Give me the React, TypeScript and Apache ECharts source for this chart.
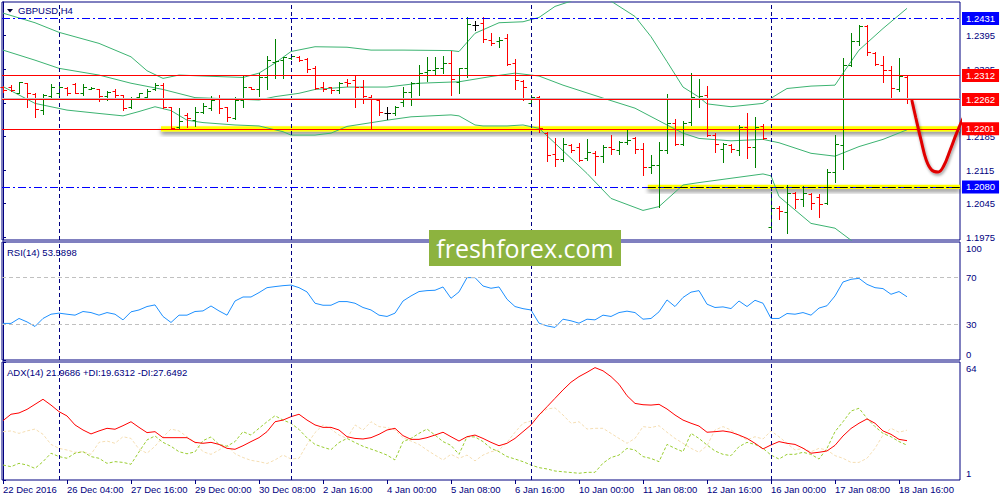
import React, { useEffect, useRef } from "react";
import * as echarts from "echarts";

const FONT = '"Liberation Sans", Arial, sans-serif';
const NAVY = "#000080";

// ---------- OHLC (H4 bars, index 0 = first visible bar) ----------
const opens = [
  1.2288, 1.2288, 1.2276, 1.2296, 1.2273, 1.2241, 1.2269, 1.2275, 1.2287, 1.2294,
  1.2276, 1.2284, 1.2283, 1.2269, 1.2280, 1.2271, 1.2246, 1.2267, 1.2268, 1.2283,
  1.2292, 1.2246, 1.2205, 1.2230, 1.2219, 1.2237, 1.2245, 1.2264, 1.2246, 1.2224,
  1.2261, 1.2288, 1.2285, 1.2310, 1.2341, 1.2345, 1.2348, 1.2351, 1.2346, 1.2327,
  1.2288, 1.2288, 1.2282, 1.2299, 1.2303, 1.2288, 1.2268, 1.2261, 1.2235, 1.2233,
  1.2257, 1.2278, 1.2296, 1.2320, 1.2324, 1.2327, 1.2339, 1.2299, 1.2327, 1.2417,
  1.2421, 1.2386, 1.2383, 1.2390, 1.2339, 1.2301, 1.2254, 1.2268, 1.2192, 1.2149,
  1.2138, 1.2167, 1.2164, 1.2140, 1.2151, 1.2145, 1.2164, 1.2157, 1.2174, 1.2181,
  1.2160, 1.2122, 1.2126, 1.2157, 1.2213, 1.2169, 1.2216, 1.2264, 1.2271, 1.2188,
  1.2160, 1.2167, 1.2157, 1.2205, 1.2164, 1.2207, 1.1997, 1.2037, 1.2028, 1.2067,
  1.2054, 1.2065, 1.2058, 1.2046, 1.2112, 1.2167, 1.2334, 1.2383, 1.2415, 1.2358,
  1.2334, 1.2324, 1.2283, 1.2308,
];
const highs = [
  1.2290, 1.2293, 1.2299, 1.2297, 1.2275, 1.2273, 1.2294, 1.2294, 1.2288, 1.2296,
  1.2294, 1.2288, 1.2285, 1.2280, 1.2283, 1.2272, 1.2267, 1.2276, 1.2283, 1.2296,
  1.2296, 1.2247, 1.2244, 1.2233, 1.2246, 1.2254, 1.2269, 1.2272, 1.2247, 1.2268,
  1.2311, 1.2289, 1.2317, 1.2353, 1.2388, 1.2351, 1.2355, 1.2353, 1.2348, 1.2332,
  1.2299, 1.2289, 1.2299, 1.2304, 1.2311, 1.2303, 1.2272, 1.2262, 1.2246, 1.2249,
  1.2288, 1.2299, 1.2334, 1.2351, 1.2350, 1.2353, 1.2364, 1.2327, 1.2433, 1.2426,
  1.2433, 1.2400, 1.2392, 1.2398, 1.2346, 1.2303, 1.2271, 1.2269, 1.2195, 1.2181,
  1.2181, 1.2169, 1.2172, 1.2179, 1.2155, 1.2167, 1.2188, 1.2176, 1.2198, 1.2183,
  1.2172, 1.2147, 1.2174, 1.2274, 1.2221, 1.2218, 1.2318, 1.2305, 1.2290, 1.2192,
  1.2172, 1.2169, 1.2209, 1.2233, 1.2225, 1.2211, 1.2070, 1.2040, 1.2084, 1.2070,
  1.2082, 1.2068, 1.2065, 1.2117, 1.2188, 1.2348, 1.2400, 1.2417, 1.2417, 1.2360,
  1.2353, 1.2332, 1.2348, 1.2311,
];
const lows = [
  1.2277, 1.2279, 1.2275, 1.2246, 1.2226, 1.2231, 1.2266, 1.2271, 1.2271, 1.2275,
  1.2272, 1.2283, 1.2259, 1.2261, 1.2266, 1.2241, 1.2244, 1.2264, 1.2265, 1.2282,
  1.2244, 1.2200, 1.2202, 1.2205, 1.2206, 1.2233, 1.2241, 1.2233, 1.2217, 1.2222,
  1.2246, 1.2285, 1.2269, 1.2283, 1.2306, 1.2306, 1.2346, 1.2342, 1.2320, 1.2285,
  1.2279, 1.2276, 1.2276, 1.2290, 1.2247, 1.2254, 1.2200, 1.2230, 1.2221, 1.2230,
  1.2249, 1.2251, 1.2272, 1.2301, 1.2315, 1.2318, 1.2271, 1.2276, 1.2308, 1.2406,
  1.2381, 1.2376, 1.2372, 1.2334, 1.2283, 1.2261, 1.2249, 1.2195, 1.2133, 1.2124,
  1.2133, 1.2153, 1.2133, 1.2136, 1.2105, 1.2131, 1.2149, 1.2149, 1.2169, 1.2151,
  1.2105, 1.2108, 1.2038, 1.2151, 1.2167, 1.2167, 1.2209, 1.2247, 1.2186, 1.2153,
  1.2132, 1.2153, 1.2147, 1.2140, 1.2121, 1.2179, 1.1994, 1.2014, 1.1984, 1.2036,
  1.2040, 1.2034, 1.2017, 1.2045, 1.2091, 1.2117, 1.2331, 1.2376, 1.2355, 1.2334,
  1.2299, 1.2265, 1.2279, 1.2254,
];
const closes = [
  1.2282, 1.2282, 1.2298, 1.2276, 1.2242, 1.2272, 1.2288, 1.2288, 1.2275, 1.2276,
  1.2289, 1.2286, 1.2269, 1.2278, 1.2271, 1.2244, 1.2265, 1.2275, 1.2280, 1.2292,
  1.2247, 1.2203, 1.2217, 1.2224, 1.2237, 1.2249, 1.2261, 1.2244, 1.2226, 1.2261,
  1.2289, 1.2285, 1.2310, 1.2345, 1.2343, 1.2350, 1.2353, 1.2345, 1.2325, 1.2287,
  1.2283, 1.2282, 1.2297, 1.2296, 1.2288, 1.2269, 1.2263, 1.2237, 1.2235, 1.2246,
  1.2278, 1.2297, 1.2317, 1.2324, 1.2327, 1.2339, 1.2304, 1.2327, 1.2419, 1.2417,
  1.2388, 1.2379, 1.2387, 1.2337, 1.2303, 1.2288, 1.2268, 1.2202, 1.2147, 1.2138,
  1.2169, 1.2157, 1.2136, 1.2153, 1.2145, 1.2164, 1.2158, 1.2174, 1.2178, 1.2160,
  1.2122, 1.2126, 1.2157, 1.2213, 1.2169, 1.2214, 1.2268, 1.2269, 1.2188, 1.2170,
  1.2170, 1.2158, 1.2205, 1.2163, 1.2205, 1.2181, 1.2037, 1.2030, 1.2068, 1.2054,
  1.2067, 1.2046, 1.2045, 1.2112, 1.2169, 1.2334, 1.2383, 1.2415, 1.2360, 1.2336,
  1.2324, 1.2286, 1.2311, 1.2263,
];

// ---------- Bollinger bands (read at vertices: [bar index, price]) ----------
const bbUpper = [
  [0, 1.2442], [4, 1.2422], [7, 1.2402], [12, 1.2379], [16, 1.2351], [18, 1.2322],
  [20, 1.2306], [22, 1.2313], [25, 1.2311], [30, 1.2308], [32, 1.2317], [34, 1.2338],
  [36, 1.2362], [39, 1.2372], [43, 1.2371], [46, 1.2365], [50, 1.2365], [56, 1.2364],
  [57, 1.2362], [59, 1.2400], [62, 1.2422], [65, 1.2424], [67, 1.2433], [69, 1.2456],
  [71, 1.2467], [73, 1.2487], [76, 1.2467], [79, 1.2435], [81, 1.2393], [83, 1.2341],
  [85, 1.2288], [87, 1.2267], [88, 1.2253], [91, 1.2247], [95, 1.2254], [97, 1.2275],
  [98, 1.2285], [101, 1.2290], [104, 1.2292], [105, 1.2317], [107, 1.2365], [110, 1.2410],
  [113, 1.2452],
];
const bbMiddle = [
  [0, 1.2365], [4, 1.2344], [7, 1.2327], [12, 1.2313], [16, 1.2296], [20, 1.2283],
  [24, 1.2266], [29, 1.2263], [32, 1.2261], [34, 1.2268], [37, 1.2275], [39, 1.2283],
  [43, 1.2288], [48, 1.2288], [52, 1.2296], [57, 1.2299], [61, 1.2310], [64, 1.2317],
  [67, 1.2311], [70, 1.2292], [75, 1.2265], [79, 1.2244], [83, 1.2209], [85, 1.2192],
  [87, 1.2181], [91, 1.2176], [95, 1.2179], [97, 1.2172], [101, 1.2150], [104, 1.2144],
  [107, 1.2164], [110, 1.2179], [113, 1.2199],
];
const bbLower = [
  [0, 1.2289], [4, 1.2254], [8, 1.2240], [12, 1.2233], [15, 1.2228], [17, 1.2237],
  [19, 1.2247], [21, 1.2239], [23, 1.2219], [25, 1.2214], [29, 1.2209], [32, 1.2207],
  [35, 1.2195], [36, 1.2188], [39, 1.2188], [41, 1.2192], [43, 1.2206], [48, 1.2219],
  [51, 1.2226], [56, 1.2230], [57, 1.2228], [59, 1.2209], [60, 1.2207], [63, 1.2207],
  [65, 1.2209], [67, 1.2202], [69, 1.2171], [73, 1.2108], [76, 1.2056], [80, 1.2031],
  [82, 1.2039], [85, 1.2084], [87, 1.2089], [91, 1.2098], [95, 1.2107], [96, 1.2103],
  [97, 1.2060], [101, 1.2004], [104, 1.1994], [106, 1.1969], [108, 1.1942],
];

// ---------- RSI(14) ----------
const rsi = [
  31.0, 31.0, 35.2, 32.3, 28.4, 35.2, 38.8, 39.7, 38.8, 38.0,
  41.1, 40.2, 38.0, 40.2, 38.8, 34.0, 40.8, 42.4, 45.3, 46.7,
  36.9, 31.8, 38.0, 38.0, 41.1, 41.6, 45.8, 41.6, 38.0, 50.0,
  53.4, 53.4, 57.1, 61.3, 62.2, 63.0, 63.5, 61.3, 57.7, 48.1,
  46.4, 46.4, 49.5, 49.5, 48.1, 44.5, 42.4, 38.0, 36.9, 39.7,
  50.0, 54.3, 58.0, 58.8, 59.1, 61.9, 52.3, 57.7, 69.8, 69.8,
  62.7, 60.8, 61.9, 51.5, 45.3, 43.5, 42.4, 31.2, 28.9, 27.6,
  34.6, 33.2, 31.2, 34.6, 34.0, 38.0, 36.9, 40.2, 41.4, 40.2,
  34.6, 35.2, 40.8, 50.9, 45.3, 53.0, 57.5, 58.8, 47.3, 44.5,
  45.0, 43.6, 50.0, 45.3, 50.6, 48.1, 35.2, 35.2, 39.4, 38.8,
  40.2, 38.0, 44.0, 46.0, 54.3, 66.1, 68.4, 69.2, 64.1, 61.3,
  60.5, 55.7, 58.0, 53.6,
];

// ---------- ADX(14) ----------
const adx = [
  32.7, 36.1, 36.8, 38.7, 41.4, 44.1, 41.0, 37.5, 35.2, 30.4,
  27.7, 25.6, 27.2, 28.6, 28.1, 30.0, 32.1, 29.1, 26.3, 26.8,
  23.6, 23.6, 23.6, 23.6, 21.1, 20.6, 21.1, 20.0, 17.9, 17.4,
  19.3, 21.5, 23.6, 26.8, 32.1, 33.0, 34.8, 36.1, 33.0, 30.4,
  29.1, 29.1, 27.7, 24.1, 23.2, 22.9, 23.6, 25.4, 27.7, 28.6,
  24.7, 22.7, 22.7, 23.6, 25.0, 26.5, 24.1, 21.8, 24.1, 25.0,
  23.2, 21.1, 19.3, 20.6, 23.2, 26.8, 30.4, 35.7, 40.1, 44.6,
  49.1, 53.2, 56.2, 58.5, 61.0, 59.3, 56.2, 52.1, 46.0, 41.9,
  41.2, 41.0, 41.4, 38.9, 35.7, 33.0, 31.3, 29.8, 26.5, 26.8,
  27.2, 26.5, 25.0, 23.2, 20.6, 17.6, 19.7, 21.5, 20.6, 20.0,
  18.0, 15.3, 15.8, 16.5, 19.5, 24.5, 28.5, 31.3, 33.6, 31.3,
  27.2, 25.4, 22.7, 22.0,
];
const plusDi = [
  9.0, 8.1, 9.9, 9.0, 7.2, 10.8, 15.3, 13.5, 12.6, 15.3,
  16.1, 13.5, 12.6, 9.9, 10.8, 10.4, 9.4, 16.0, 22.4, 24.5,
  21.1, 19.0, 16.1, 15.0, 16.0, 22.0, 24.0, 20.0, 19.0, 21.5,
  26.8, 25.0, 28.6, 32.1, 35.3, 33.0, 31.3, 28.0, 23.5, 20.0,
  18.5, 17.2, 21.0, 23.2, 21.0, 19.0, 17.5, 16.0, 14.3, 11.7,
  21.5, 23.2, 25.9, 28.2, 25.0, 21.5, 19.5, 14.7, 24.1, 24.0,
  21.5, 17.9, 16.1, 13.5, 12.2, 10.8, 9.0, 7.6, 6.9, 5.8,
  5.4, 5.0, 4.6, 5.1, 5.1, 10.0, 13.0, 14.3, 17.9, 17.0,
  13.5, 12.5, 10.8, 20.0, 17.9, 16.1, 25.9, 23.2, 19.7, 16.5,
  14.7, 14.0, 18.8, 21.1, 20.0, 17.9, 14.3, 12.2, 14.7, 14.7,
  15.8, 14.7, 12.2, 17.9, 26.8, 32.1, 37.8, 39.3, 33.9, 29.5,
  25.9, 24.1, 21.5, 19.6,
];
const minusDi = [
  26.8, 27.2, 25.9, 27.2, 28.2, 25.4, 20.0, 17.9, 17.0, 15.8,
  16.1, 14.7, 21.1, 21.8, 20.6, 24.1, 23.2, 17.5, 15.3, 19.0,
  24.0, 28.2, 27.2, 24.1, 21.1, 16.1, 14.7, 17.0, 19.7, 15.0,
  13.0, 11.5, 10.8, 9.8, 11.7, 14.3, 12.2, 12.6, 20.0, 26.3,
  30.4, 28.2, 25.0, 23.2, 30.4, 27.7, 32.1, 29.5, 29.0, 27.7,
  23.6, 21.8, 20.0, 17.0, 14.3, 11.7, 14.7, 12.6, 14.3, 11.2,
  14.3, 16.1, 17.0, 21.1, 26.5, 31.3, 32.5, 35.7, 38.9, 39.5,
  35.7, 31.3, 32.1, 28.2, 28.6, 28.6, 25.9, 23.2, 20.6, 23.2,
  29.5, 29.0, 30.0, 26.5, 23.2, 20.6, 17.9, 15.8, 19.3, 27.7,
  29.5, 27.7, 24.7, 22.4, 24.1, 22.9, 27.2, 24.1, 20.6, 17.0,
  17.9, 16.1, 17.9, 17.0, 14.0, 12.6, 10.4, 10.4, 12.6, 17.9,
  25.0, 28.6, 26.5, 27.6,
];

// ---------- axes / annotations ----------
const tickLabels = [
  "22 Dec 2016", "26 Dec 04:00", "27 Dec 16:00", "29 Dec 00:00", "30 Dec 08:00",
  "2 Jan 16:00", "4 Jan 00:00", "5 Jan 08:00", "6 Jan 16:00", "10 Jan 00:00",
  "11 Jan 08:00", "12 Jan 16:00", "16 Jan 00:00", "17 Jan 08:00", "18 Jan 16:00",
];
const tickBars = tickLabels.map((_, k) => k * 8);
const priceTicks = [1.1975, 1.2045, 1.2115, 1.2185, 1.2255, 1.2325, 1.2395];
const priceLabels = [1.1975, 1.2045, 1.2115, 1.2185, 1.2325, 1.2395];
const rsiTicks = [0, 30, 70, 100];
const rsiLevels = [70, 30];
const adxTicks = [1, 64];
const weekSeparators = [7, 36, 66, 96];
const blueLevels = [1.2431, 1.2080];
const redLevels = [1.2312, 1.2262, 1.2201];
const bidLine = 1.2265;
const zoneUpper = { level: 1.2201, fromBar: 19.75, half: 0.00055 };
const zoneLower = { level: 1.2080, fromBar: 80.6, half: 0.00045 };
const handCurve = [
  [113.6, 1.2261], [114.1, 1.2224], [114.75, 1.2178], [115.4, 1.2136], [116.1, 1.2115],
  [116.9, 1.2111], [117.6, 1.2124], [118.4, 1.2157], [119.25, 1.2194], [120.1, 1.2226],
  [121.0, 1.2251], [122.0, 1.2274],
];
const handTick = [[122.0, 1.2274], [122.4, 1.2242]];

const X_MIN = -0.125;
const X_MAX = 119.625;
const P_MIN = 1.19694;
const P_MAX = 1.24652;

const ohlc = opens.map((o, i) => [i, o, highs[i], lows[i], closes[i]]);
const idx = (arr: number[]) => arr.map((v, i) => [i, v]);

function renderBar(params: any, api: any) {
  const i = api.value(0);
  const o = api.value(1);
  const h = api.value(2);
  const l = api.value(3);
  const c = api.value(4);
  const pH = api.coord([i, h]);
  const pL = api.coord([i, l]);
  const pO = api.coord([i, o]);
  const pC = api.coord([i, c]);
  const x = Math.round(pH[0]) + 0.5;
  const yo = Math.round(pO[1]) + 0.5;
  const yc = Math.round(pC[1]) + 0.5;
  const color = c > o ? "#008000" : c < o ? "#ff0000" : "#000000";
  const st = { stroke: color, lineWidth: 1, fill: null };
  return {
    type: "group",
    children: [
      { type: "line", shape: { x1: x, y1: Math.round(pH[1]), x2: x, y2: Math.round(pL[1]) + 1 }, style: st },
      { type: "line", shape: { x1: x - 3, y1: yo, x2: x, y2: yo }, style: st },
      { type: "line", shape: { x1: x, y1: yc, x2: x + 3.5, y2: yc }, style: st },
    ],
  };
}

const badge = (bg: string) => ({
  show: true,
  position: "end",
  distance: 2,
  formatter: (p: any) => Number(p.value).toFixed(4),
  backgroundColor: bg,
  color: "#ffffff",
  fontSize: 9.5,
  fontFamily: FONT,
  padding: [2, 4, 1, 4],
  lineHeight: 10,
});

// one helper series per line colour, so each markLine group has its own style
const markLineSeries = (
  g: number,
  data: any[],
  lineStyle: any,
  label: any = { show: false },
  z = 3
) => ({
  type: "line",
  xAxisIndex: g,
  yAxisIndex: g,
  data: [],
  z,
  silent: true,
  markLine: {
    silent: true,
    symbol: "none",
    precision: 6,
    animation: false,
    lineStyle,
    label,
    data,
  },
});

const sepStyle = { color: NAVY, type: [4, 3], width: 1 };
const sepData = weekSeparators.map((b) => ({ xAxis: b }));

const gridBase = {
  left: 2,
  width: 958,
  show: true,
  borderColor: NAVY,
  borderWidth: 1,
  containLabel: false,
  outerBoundsMode: "none",
};

const option: any = {
  animation: false,
  backgroundColor: "#ffffff",
  textStyle: { fontFamily: FONT },
  grid: [
    { ...gridBase, top: 2, height: 238 },
    { ...gridBase, top: 242, height: 118 },
    { ...gridBase, top: 362, height: 118 },
  ],
  xAxis: [0, 1, 2].map((g) => ({
    type: "value",
    gridIndex: g,
    min: X_MIN,
    max: X_MAX,
    show: g === 2,
    axisLine: { show: false },
    splitLine: { show: false },
    axisTick: { show: g === 2, customValues: tickBars, length: 4, lineStyle: { color: NAVY } },
    axisLabel: {
      show: g === 2,
      customValues: tickBars,
      formatter: (v: number) => tickLabels[Math.round(v / 8)] ?? "",
      align: "left",
      color: NAVY,
      fontSize: 9.5,
      fontFamily: FONT,
      margin: 4,
    },
  })),
  yAxis: [
    {
      type: "value",
      gridIndex: 0,
      position: "right",
      min: P_MIN,
      max: P_MAX,
      splitLine: { show: false },
      axisLine: { show: true, lineStyle: { color: NAVY } },
      axisTick: { show: true, customValues: priceTicks, length: 3, lineStyle: { color: NAVY } },
      axisLabel: {
        customValues: priceLabels,
        formatter: (v: number) => v.toFixed(4),
        color: NAVY,
        fontSize: 9.5,
        fontFamily: FONT,
        margin: 6,
      },
    },
    {
      type: "value",
      gridIndex: 1,
      position: "right",
      min: 0,
      max: 100,
      splitLine: { show: false },
      axisLine: { show: true, lineStyle: { color: NAVY } },
      axisTick: { show: true, customValues: rsiTicks, length: 3, lineStyle: { color: NAVY } },
      axisLabel: {
        customValues: rsiTicks,
        formatter: (v: number) => (v === 100 ? "{t|100}" : v === 0 ? "{b|0}" : String(v)),
        rich: {
          t: { padding: [12, 0, 0, 0], color: NAVY, fontSize: 9.5, fontFamily: FONT },
          b: { padding: [0, 0, 12, 0], color: NAVY, fontSize: 9.5, fontFamily: FONT },
        },
        color: NAVY,
        fontSize: 9.5,
        fontFamily: FONT,
        margin: 6,
      },
    },
    {
      type: "value",
      gridIndex: 2,
      position: "right",
      min: 1,
      max: 64,
      splitLine: { show: false },
      axisLine: { show: true, lineStyle: { color: NAVY } },
      axisTick: { show: true, customValues: adxTicks, length: 3, lineStyle: { color: NAVY } },
      axisLabel: {
        customValues: adxTicks,
        formatter: (v: number) => (v === 64 ? "{t|64}" : "{b|1}"),
        rich: {
          t: { padding: [13, 0, 0, 0], color: NAVY, fontSize: 9.5, fontFamily: FONT },
          b: { padding: [0, 0, 13, 0], color: NAVY, fontSize: 9.5, fontFamily: FONT },
        },
        color: NAVY,
        fontSize: 9.5,
        fontFamily: FONT,
        margin: 6,
      },
    },
  ],
  series: [
    // highlighted zones (yellow)
    {
      type: "line",
      xAxisIndex: 0,
      yAxisIndex: 0,
      data: [],
      z: 1,
      silent: true,
      markArea: {
        silent: true,
        itemStyle: {
          color: "#ffff00",
          shadowBlur: 4,
          shadowOffsetY: 3,
          shadowColor: "rgba(0,0,0,0.45)",
        },
        data: [
          [
            { coord: [zoneUpper.fromBar, zoneUpper.level + zoneUpper.half] },
            { coord: [X_MAX, zoneUpper.level - zoneUpper.half] },
          ],
          [
            { coord: [zoneLower.fromBar, zoneLower.level + zoneLower.half] },
            { coord: [X_MAX, zoneLower.level - zoneLower.half] },
          ],
        ],
      },
    },
    // Bollinger bands
    ...[bbUpper, bbMiddle, bbLower].map((d) => ({
      type: "line",
      xAxisIndex: 0,
      yAxisIndex: 0,
      data: d,
      symbol: "none",
      z: 2,
      silent: true,
      itemStyle: { color: "#3cb371" },
      lineStyle: { color: "#3cb371", width: 1 },
    })),
    // week separators in all three panes
    markLineSeries(0, sepData, sepStyle),
    markLineSeries(1, sepData, sepStyle),
    markLineSeries(2, sepData, sepStyle),
    // bid line
    markLineSeries(0, [{ yAxis: bidLine }], { color: "#c0c0c0", type: "solid", width: 1 }),
    // blue dash-dot levels
    markLineSeries(
      0,
      blueLevels.map((v) => ({ yAxis: v })),
      { color: "#0000ff", type: [8, 3, 2, 3], width: 1 },
      badge("#0000ff")
    ),
    // black dash-dot over the lower yellow zone
    markLineSeries(
      0,
      [[{ coord: [zoneLower.fromBar, zoneLower.level] }, { coord: [X_MAX, zoneLower.level] }]],
      { color: "#000000", type: [8, 3, 2, 3], width: 1 }
    ),
    // red solid levels
    markLineSeries(
      0,
      redLevels.map((v) => ({ yAxis: v })),
      { color: "#ff0000", type: "solid", width: 1 },
      badge("#ff0000")
    ),
    // RSI levels
    markLineSeries(
      1,
      rsiLevels.map((v) => ({ yAxis: v })),
      { color: "#c0c0c0", type: [4, 3], width: 1 }
    ),
    // OHLC bars
    {
      type: "custom",
      xAxisIndex: 0,
      yAxisIndex: 0,
      data: ohlc,
      encode: { x: 0, y: [1, 2, 3, 4] },
      renderItem: renderBar,
      z: 4,
      silent: true,
    },
    // hand-drawn projection
    {
      type: "line",
      xAxisIndex: 0,
      yAxisIndex: 0,
      data: handCurve,
      smooth: 0.4,
      symbol: "none",
      clip: false,
      z: 10,
      silent: true,
      itemStyle: { color: "#e00000" },
      lineStyle: {
        color: "#e00000",
        width: 3,
        shadowBlur: 3,
        shadowOffsetY: 2,
        shadowOffsetX: 1,
        shadowColor: "rgba(0,0,0,0.4)",
      },
    },
    {
      type: "line",
      xAxisIndex: 0,
      yAxisIndex: 0,
      data: handTick,
      symbol: "none",
      clip: false,
      z: 10,
      silent: true,
      itemStyle: { color: "#e00000" },
      lineStyle: { color: "#e00000", width: 2.5 },
    },
    // RSI
    {
      type: "line",
      xAxisIndex: 1,
      yAxisIndex: 1,
      data: idx(rsi),
      symbol: "none",
      z: 3,
      silent: true,
      itemStyle: { color: "#1e90ff" },
      lineStyle: { color: "#1e90ff", width: 1 },
    },
    // ADX panel
    {
      type: "line",
      xAxisIndex: 2,
      yAxisIndex: 2,
      data: idx(minusDi),
      symbol: "none",
      z: 2,
      silent: true,
      itemStyle: { color: "#f5deb3" },
      lineStyle: { color: "#f5deb3", width: 1, type: [3, 2] },
    },
    {
      type: "line",
      xAxisIndex: 2,
      yAxisIndex: 2,
      data: idx(plusDi),
      symbol: "none",
      z: 2,
      silent: true,
      itemStyle: { color: "#9acd32" },
      lineStyle: { color: "#9acd32", width: 1, type: [3, 2] },
    },
    {
      type: "line",
      xAxisIndex: 2,
      yAxisIndex: 2,
      data: idx(adx),
      symbol: "none",
      z: 3,
      silent: true,
      itemStyle: { color: "#ff0000" },
      lineStyle: { color: "#ff0000", width: 1 },
    },
  ],
  graphic: [
    {
      type: "polygon",
      z: 100,
      shape: { points: [[7, 9], [13, 9], [10, 12.5]] },
      style: { fill: "#000033" },
    },
    {
      type: "text",
      z: 100,
      x: 18,
      y: 10,
      style: { text: "GBPUSD,H4", fill: NAVY, fontSize: 9.5, fontFamily: FONT, verticalAlign: "middle" },
    },
    {
      type: "text",
      z: 100,
      x: 7,
      y: 252,
      style: { text: "RSI(14) 53.5898", fill: NAVY, fontSize: 9.5, fontFamily: FONT, verticalAlign: "middle" },
    },
    {
      type: "text",
      z: 100,
      x: 7,
      y: 372,
      style: {
        text: "ADX(14) 21.9686 +DI:19.6312 -DI:27.6492",
        fill: NAVY,
        fontSize: 9.5,
        fontFamily: FONT,
        verticalAlign: "middle",
      },
    },
    {
      type: "rect",
      z: 200,
      shape: { x: 429, y: 230, width: 192, height: 36 },
      style: { fill: "#8db33f" },
    },
    {
      type: "text",
      z: 201,
      x: 525,
      y: 248,
      style: {
        text: "freshforex.com",
        fill: "#ffffff",
        fontSize: 25,
        fontFamily: '"Open Sans", sans-serif',
        align: "center",
        verticalAlign: "middle",
      },
    },
  ],
};

export default function App() {
  const ref = useRef<HTMLDivElement>(null);
  useEffect(() => {
    if (!ref.current) return;
    const chart = echarts.init(ref.current, null, { renderer: "svg" });
    chart.setOption(option);
    return () => chart.dispose();
  }, []);
  return (
    <div
      ref={ref}
      style={{ position: "fixed", left: 0, top: 0, width: 1000, height: 500, background: "#fff" }}
    />
  );
}
